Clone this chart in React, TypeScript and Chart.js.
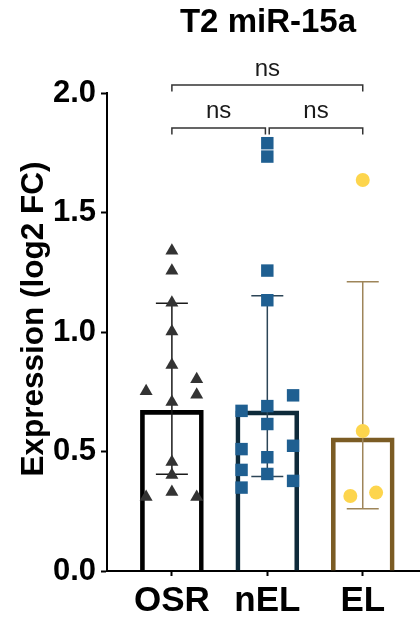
import React, { useEffect, useRef } from 'react';
import { Chart, registerables } from 'chart.js';

Chart.register(...registerables);

const FONT = "'Liberation Sans', Arial, sans-serif";

const titleText = 'T2 miR-15a';
const yTitleText = 'Expression (log2 FC)';

const categories = ['OSR', 'nEL', 'EL'];
const categoryX = [1, 2, 3];
const meanValues = [0.672, 0.67, 0.557];
const errLow = [0.405, 0.395, 0.26];
const errHigh = [1.12, 1.152, 1.21];
const yTicks = [0, 0.5, 1.0, 1.5, 2.0];

const osrX = [1, 1, 1, 1, 1, 0.73, 1.26, 1.26, 1, 1, 1, 1, 0.73, 1.26];
const osrY = [1.34, 1.256, 1.122, 1.002, 0.862, 0.752, 0.802, 0.737, 0.707, 0.456, 0.402, 0.331, 0.31, 0.31];

const nelX = [2, 2, 2, 2, 2.27, 1.73, 2, 2, 1.73, 2.27, 2, 1.73, 2, 2.27, 1.73];
const nelY = [1.79, 1.734, 1.257, 1.133, 0.735, 0.67, 0.69, 0.615, 0.51, 0.524, 0.476, 0.423, 0.406, 0.377, 0.349];

const elX = [3, 3, 2.87, 3.14];
const elY = [1.636, 0.586, 0.314, 0.328];

const bracketFrom = [1, 1, 2.02];
const bracketTo = [3, 1.98, 3];
const bracketY = [2.033, 1.854, 1.854];
const bracketLabel = ['ns', 'ns', 'ns'];

const barColors = ['#000000', '#0e2a3a', '#7b5c24'];
const errColors = ['#1a1a1a', '#2c4557', '#9e8559'];

const annotations = {
  id: 'annotations',
  afterDatasetDraw(chart: any, args: any) {
    if (args.index !== 0) return;
    const { ctx } = chart;
    const x = chart.scales.x;
    const y = chart.scales.y;
    ctx.save();
    ctx.lineWidth = 1.5;
    for (let i = 0; i < categoryX.length; i++) {
      const px = x.getPixelForValue(categoryX[i]);
      const yl = y.getPixelForValue(errLow[i]);
      const yh = y.getPixelForValue(errHigh[i]);
      ctx.strokeStyle = errColors[i];
      ctx.beginPath();
      ctx.moveTo(px, yl);
      ctx.lineTo(px, yh);
      ctx.moveTo(px - 16, yl);
      ctx.lineTo(px + 16, yl);
      ctx.moveTo(px - 16, yh);
      ctx.lineTo(px + 16, yh);
      ctx.stroke();
    }
    ctx.restore();
  },
  afterDraw(chart: any) {
    const { ctx } = chart;
    const x = chart.scales.x;
    const y = chart.scales.y;
    ctx.save();
    // brackets
    ctx.strokeStyle = '#333333';
    ctx.lineWidth = 1.5;
    ctx.fillStyle = '#1a1a1a';
    ctx.font = `24px ${FONT}`;
    ctx.textAlign = 'center';
    ctx.textBaseline = 'alphabetic';
    for (let i = 0; i < bracketFrom.length; i++) {
      const x1 = x.getPixelForValue(bracketFrom[i]);
      const x2 = x.getPixelForValue(bracketTo[i]);
      const py = y.getPixelForValue(bracketY[i]);
      ctx.beginPath();
      ctx.moveTo(x1, py + 6.5);
      ctx.lineTo(x1, py);
      ctx.lineTo(x2, py);
      ctx.lineTo(x2, py + 6.5);
      ctx.stroke();
      ctx.fillText(bracketLabel[i], (x1 + x2) / 2, py - 9.5);
    }
    // title
    ctx.fillStyle = '#000000';
    ctx.font = `bold 33px ${FONT}`;
    ctx.fillText(titleText, 268, 32);
    // y title
    ctx.font = `bold 31.5px ${FONT}`;
    ctx.translate(43, 319);
    ctx.rotate(-Math.PI / 2);
    ctx.fillText(yTitleText, 0, 0);
    ctx.restore();
  },
};

export default function App() {
  const ref = useRef<HTMLCanvasElement | null>(null);
  useEffect(() => {
    const canvas = ref.current;
    if (!canvas) return;
    const chart = new Chart(canvas, {
      type: 'bar',
      data: {
        datasets: [
          {
            type: 'bar',
            data: categoryX.map((v, i) => ({ x: v, y: meanValues[i] })),
            backgroundColor: 'rgba(255,255,255,0)',
            borderColor: barColors,
            borderWidth: 4,
            borderSkipped: 'start',
            barThickness: 63,
            order: 3,
          } as any,
          {
            type: 'scatter',
            data: osrX.map((v, i) => ({ x: v, y: osrY[i] })),
            pointStyle: 'triangle',
            pointRadius: 7.5,
            backgroundColor: '#333333',
            borderWidth: 0,
            showLine: false,
            order: 1,
          } as any,
          {
            type: 'scatter',
            data: nelX.map((v, i) => ({ x: v, y: nelY[i] })),
            pointStyle: 'rect',
            pointRadius: 8.8,
            backgroundColor: '#1f5f91',
            borderWidth: 0,
            showLine: false,
            order: 1,
          } as any,
          {
            type: 'scatter',
            data: elX.map((v, i) => ({ x: v, y: elY[i] })),
            pointStyle: 'circle',
            pointRadius: 7,
            backgroundColor: '#fdd54d',
            borderWidth: 0,
            showLine: false,
            order: 1,
          } as any,
        ],
      },
      options: {
        animation: false,
        responsive: true,
        maintainAspectRatio: false,
        devicePixelRatio: 1,
        events: [],
        layout: { autoPadding: false, padding: { top: 93, left: 0, right: 0, bottom: 0 } },
        plugins: {
          legend: { display: false },
          tooltip: { enabled: false },
          title: { display: false },
        },
        scales: {
          x: {
            type: 'linear',
            min: 0.32,
            max: 3.6,
            offset: false,
            afterFit: (s: any) => {
              s.height = 50;
              s.paddingLeft = 0;
              s.paddingRight = 0;
            },
            afterBuildTicks: (s: any) => {
              s.ticks = categoryX.map((v) => ({ value: v }));
            },
            grid: {
              display: true,
              offset: false,
              drawOnChartArea: false,
              drawTicks: true,
              tickLength: 5,
              tickWidth: 2,
              tickColor: '#000000',
            },
            border: { display: true, color: '#000000', width: 2 },
            ticks: {
              autoSkip: false,
              maxRotation: 0,
              padding: 4,
              color: '#000000',
              font: { family: FONT, size: 35, weight: 'bold' },
              callback: (v: any) => {
                const idx = categoryX.indexOf(Number(v));
                return idx >= 0 ? categories[idx] : '';
              },
            },
          },
          y: {
            type: 'linear',
            min: 0,
            max: 2,
            afterFit: (s: any) => {
              s.width = 107;
              s.paddingTop = 0;
              s.paddingBottom = 0;
            },
            afterBuildTicks: (s: any) => {
              s.ticks = yTicks.map((v) => ({ value: v }));
            },
            grid: {
              display: true,
              drawOnChartArea: false,
              drawTicks: true,
              tickLength: 6,
              tickWidth: 2,
              tickColor: '#000000',
            },
            border: { display: true, color: '#000000', width: 2 },
            ticks: {
              padding: 5,
              color: '#000000',
              font: { family: FONT, size: 31, weight: 'bold' },
              callback: (v: any) => Number(v).toFixed(1),
            },
          },
        },
      } as any,
      plugins: [annotations],
    });
    return () => chart.destroy();
  }, []);
  return (
    <div style={{ position: 'absolute', left: 0, top: 0, width: 420, height: 621 }}>
      <canvas ref={ref} />
    </div>
  );
}
